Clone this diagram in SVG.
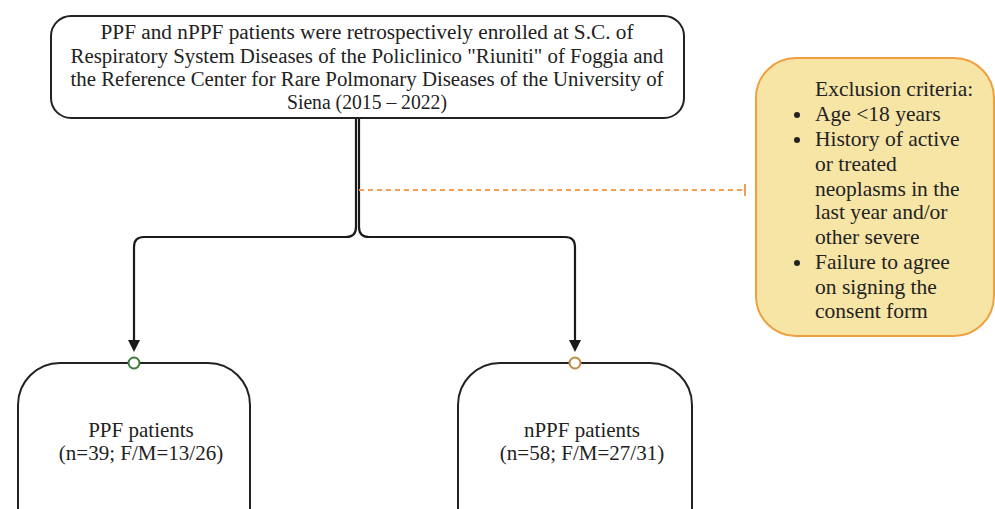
<svg xmlns="http://www.w3.org/2000/svg" width="995" height="509" viewBox="0 0 995 509">
<defs>
<style>
.box{fill:#ffffff;stroke:#222222;stroke-width:2}
.t{font-family:"Liberation Serif","Times New Roman",serif;fill:#222222;text-anchor:middle}
.top{font-size:20px}
.bot{font-size:21px}
.ex{font-family:"Liberation Serif","Times New Roman",serif;fill:#222222;font-size:21.5px}
.conn{fill:none;stroke:#1a1a1a;stroke-width:2.2}
</style>
</defs>
<g id="connectors">
<path class="conn" d="M356 118 V227 Q356 237 346 237 H144 Q134 237 134 247 V340"/>
<path class="conn" d="M359 118 V227 Q359 237 369 237 H565 Q575 237 575 247 V340"/>
<path d="M128 340 L140 340 L134 352 Z" fill="#1a1a1a"/>
<path d="M569 340 L581 340 L575 352 Z" fill="#1a1a1a"/>
<line x1="359" y1="190" x2="745" y2="190" stroke="#f0a050" stroke-width="2" stroke-dasharray="5 4"/>
<line x1="745" y1="184" x2="745" y2="196" stroke="#f0a050" stroke-width="2"/>
</g>
<g id="node-enrolled">
<rect class="box" x="51" y="16" width="633" height="102" rx="20"/>
<text class="t top" x="367" y="39" textLength="533" lengthAdjust="spacingAndGlyphs">PPF and nPPF patients were retrospectively enrolled at S.C. of</text>
<text class="t top" x="367" y="63" textLength="593" lengthAdjust="spacingAndGlyphs">Respiratory System Diseases of the Policlinico "Riuniti" of Foggia and</text>
<text class="t top" x="367" y="86" textLength="593" lengthAdjust="spacingAndGlyphs">the Reference Center for Rare Polmonary Diseases of the University of</text>
<text class="t top" x="367" y="109" textLength="160" lengthAdjust="spacingAndGlyphs">Siena (2015 – 2022)</text>
</g>
<g id="node-exclusion">
<rect x="756" y="58" width="238" height="278" rx="40" fill="#f7e5a6" stroke="#f0a040" stroke-width="2"/>
<text class="ex" x="815" y="96">Exclusion criteria:</text>
<circle cx="797" cy="115" r="3" fill="#222"/>
<text class="ex" x="815" y="121">Age &lt;18 years</text>
<circle cx="797" cy="140" r="3" fill="#222"/>
<text class="ex" x="815" y="146">History of active</text>
<text class="ex" x="815" y="171">or treated</text>
<text class="ex" x="815" y="196">neoplasms in the</text>
<text class="ex" x="815" y="219">last year and/or</text>
<text class="ex" x="815" y="244">other severe</text>
<circle cx="797" cy="263" r="3" fill="#222"/>
<text class="ex" x="815" y="269">Failure to agree</text>
<text class="ex" x="815" y="294">on signing the</text>
<text class="ex" x="815" y="318">consent form</text>
</g>
<g id="node-ppf">
<rect class="box" x="18" y="363" width="232" height="190" rx="42"/>
<circle cx="134" cy="363" r="5.5" fill="#ffffff" stroke="#3a7a3a" stroke-width="2"/>
<text class="t bot" x="141" y="437">PPF patients</text>
<text class="t bot" x="141" y="460">(n=39; F/M=13/26)</text>
</g>
<g id="node-nppf">
<rect class="box" x="458" y="363" width="234" height="190" rx="42"/>
<circle cx="575" cy="363" r="5.5" fill="#ffffff" stroke="#c08a40" stroke-width="2"/>
<text class="t bot" x="582" y="437">nPPF patients</text>
<text class="t bot" x="582" y="460">(n=58; F/M=27/31)</text>
</g>
</svg>
